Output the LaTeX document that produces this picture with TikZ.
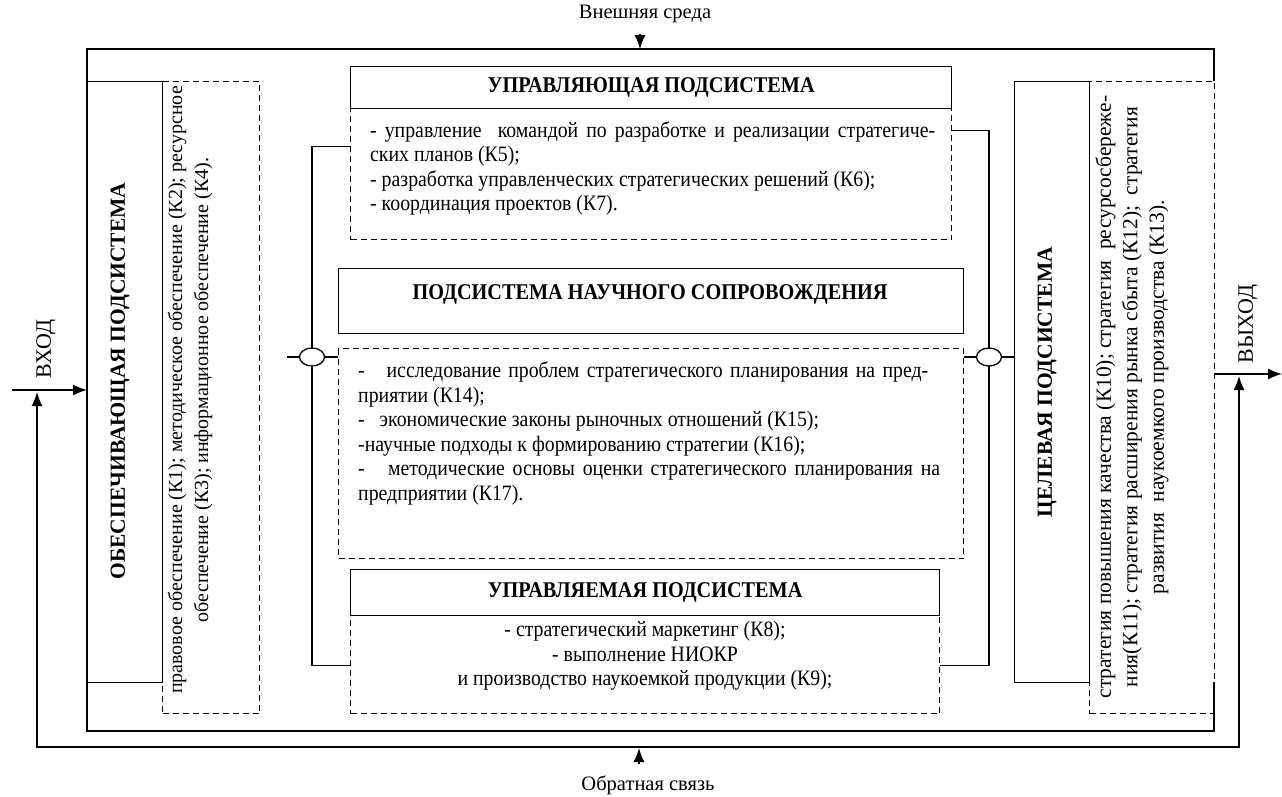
\documentclass[tikz,border=0pt]{standalone}
\usepackage{fontspec}
\setmainfont{Liberation Serif}
\newfontfamily\condfont[FakeStretch=0.9]{Liberation Serif}
\usetikzlibrary{arrows.meta,shapes.geometric,calc}
\tikzset{
  solidbox/.style={draw, line width=1.3pt, inner sep=0pt, anchor=north west},
  dashbox/.style={draw, line width=1.3pt, dash pattern=on 6pt off 4pt, inner sep=0pt, anchor=north west},
  hbody/.style={font=\condfont\fontsize{22}{24.5}\selectfont, inner sep=0pt},
  htitle/.style={font=\condfont\bfseries\fontsize{22.5}{24}\selectfont, inner sep=0pt},
  vbodyL/.style={font=\fontsize{20}{26}\selectfont, rotate=90, align=center, inner sep=0pt},
  vbodyR/.style={font=\fontsize{21.5}{26.5}\selectfont, rotate=90, align=center, inner sep=0pt},
  vtitle/.style={font=\bfseries\fontsize{21.5}{26}\selectfont, rotate=90, inner sep=0pt},
  lbl/.style={font=\fontsize{20.5}{24}\selectfont, inner sep=0pt},
  iolbl/.style={font=\fontsize{22}{24}\selectfont, inner sep=0pt, rotate=90},
  wire/.style={line width=1.3pt},
  arr/.style={line width=1.3pt, -{Latex[length=14pt,width=11pt]}},
  junction/.style={draw, ellipse, line width=1.3pt, fill=white, minimum width=25pt, minimum height=18pt, inner sep=0pt}
}
\begin{document}
\begin{tikzpicture}[x=1pt,y=-1pt]
\useasboundingbox (0,0) rectangle (1282,796);
% outer frame
\draw[line width=1.5pt] (1214,81) -- (1214,49) -- (87,49) -- (87,731) -- (1214,731) -- (1214,682);
% left subsystem
\node[dashbox, minimum width=97pt, minimum height=632pt] (leftD) at (162,81) {};
\node[solidbox, minimum width=75pt, minimum height=601pt] (leftS) at (87,81) {};
\node[vtitle] (leftT) at (120,381) {ОБЕСПЕЧИВАЮЩАЯ ПОДСИСТЕМА};
\node[vbodyL] (leftTxt) at (190,390) {правовое обеспечение (К1); методическое обеспечение (К2); ресурсное\\обеспечение (К3); информационное обеспечение (К4).};
% right subsystem
\node[dashbox, minimum width=125pt, minimum height=632pt] (rightD) at (1089,81) {};
\node[solidbox, minimum width=75pt, minimum height=601pt] (rightS) at (1014,81) {};
\node[vtitle] (rightT) at (1047,382) {ЦЕЛЕВАЯ ПОДСИСТЕМА};
\node[vbodyR] (rightTxt) at (1132,397) {стратегия повышения качества (К10); стратегия\ \ ресурсосбереже-\\ния(К11); стратегия расширения рынка сбыта (К12);\ \ стратегия\\развития\ \ наукоемкого производства (К13).};
% control subsystem
\node[dashbox, minimum width=601pt, minimum height=131pt] (ctrlD) at (350,108) {};
\node[solidbox, minimum width=601pt, minimum height=42pt, htitle] (ctrlT) at (350,66) {УПРАВЛЯЮЩАЯ ПОДСИСТЕМА};
\node[hbody, align=left, anchor=base west] (ctrlTxt) at (370,210.5) {\makebox[565pt][s]{- управление\ \ командой по разработке и реализации стратегиче-}\\ских планов (К5);\\- разработка управленческих стратегических решений (К6);\\- координация проектов (К7).};
% science subsystem
\node[solidbox, minimum width=625pt, minimum height=65pt] (sciT) at (338,268) {};
\node[htitle] (sciTitle) at (650,294) {ПОДСИСТЕМА НАУЧНОГО СОПРОВОЖДЕНИЯ};
\node[dashbox, minimum width=625pt, minimum height=210pt] (sciD) at (338,348) {};
\node[hbody, align=left, anchor=base west] (sciTxt) at (358,500) {\makebox[570pt][s]{-\ \ \ исследование проблем стратегического планирования на пред-}\\приятии (К14);\\-\ \ \ экономические законы рыночных отношений (К15);\\-научные подходы к формированию стратегии (К16);\\\makebox[582pt][s]{-\ \ \ методические основы оценки стратегического планирования на}\\предприятии (К17).};
% managed subsystem
\node[dashbox, minimum width=589pt, minimum height=98pt] (mgdD) at (350,615) {};
\node[solidbox, minimum width=589pt, minimum height=46pt, htitle] (mgdT) at (350,569) {УПРАВЛЯЕМАЯ ПОДСИСТЕМА};
\node[hbody, align=center, anchor=base] (mgdTxt) at (645,685.5) {- стратегический маркетинг (К8);\\- выполнение НИОКР\\и производство наукоемкой продукции (К9);};
% buses
\coordinate (lTop) at ($(ctrlD.north west)+(0,38.7)$);
\coordinate (lBot) at ($(mgdD.north west)+(0,50.7)$);
\coordinate (rTop) at ($(ctrlD.north east)+(0,22.7)$);
\coordinate (rBot) at ($(mgdD.north east)+(0,50.7)$);
\draw[wire] (lTop) -- (312,146.7) -- (312,665.7) -- (lBot);
\draw[wire] (rTop) -- (989,130.7) -- (989,665.7) -- (rBot);
\coordinate (lStub) at (287,357);
\node[junction] (lJ) at (312,357) {};
\node[junction] (rJ) at (989,357) {};
\draw[wire] (lStub) -- (lJ.west);
\draw[wire] (lJ.east) -- (sciD.west |- lJ.east);
\draw[wire] (rJ.west) -- (sciD.east |- rJ.west);
\draw[wire] (rJ.east) -- (rightS.west |- rJ.east);
% external environment
\node[lbl] (env) at (645,14) {Внешняя среда};
\coordinate (envA) at (640,34);
\draw[arr] (envA) -- (640,49);
% feedback
\node[lbl] (fb) at (648,785) {Обратная связь};
\coordinate (fbA) at (639,764);
\draw[arr] (fbA) -- (639,748);
\coordinate (fbL) at (37,392);
\coordinate (fbR) at (1239,376);
\draw[line width=1.5pt, {Latex[length=14pt,width=11pt]}-{Latex[length=14pt,width=11pt]}] (fbL) -- (37,747) -- (1239,747) -- (fbR);
% input / output
\coordinate (inS) at (12,390);
\draw[arr] (inS) -- (leftS.west |- inS);
\node[iolbl] (inL) at (46,349) {ВХОД};
\coordinate (outE) at (1282,374);
\draw[arr] (rightD.east |- outE) -- (outE);
\node[iolbl] (outL) at (1248,324) {ВЫХОД};
\end{tikzpicture}
\end{document}
